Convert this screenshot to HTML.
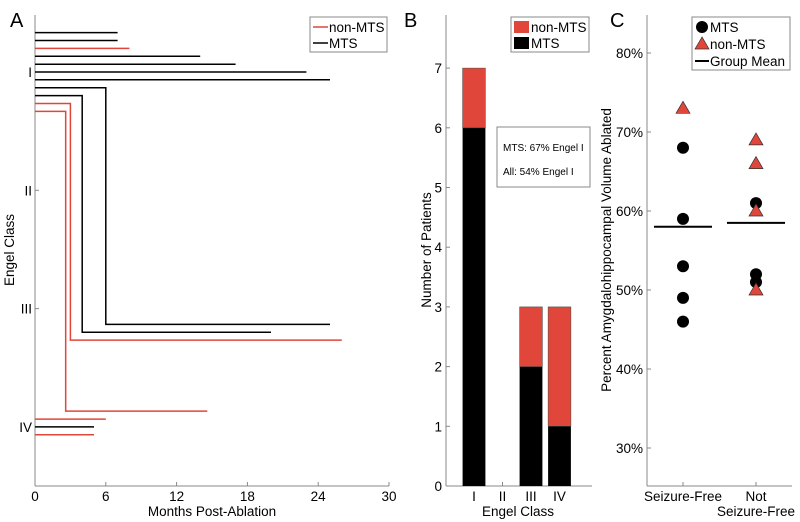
<!DOCTYPE html>
<html><head><meta charset="utf-8"><style>
body{margin:0;background:#fff;}
svg{display:block;font-family:"Liberation Sans",sans-serif;}
</style></head><body>
<svg id="fig" width="800" height="522" xmlns="http://www.w3.org/2000/svg"></svg>
<script>
// Panel A data
const aRows = [[1,-0.333,7,'k'],[1,-0.266,7,'k'],[1,-0.2,8,'r'],[1,-0.133,14,'k'],[1,-0.066,17,'k'],[1,0,23,'k'],[1,0.066,25,'k'],[4,-0.066,6,'r'],[4,0,5,'k'],[4,0.066,5,'r']];
const aSteps = [[1,0.133,6,3,0.133,25,'k'],[1,0.2,4,3,0.2,20,'k'],[1,0.266,3,3,0.266,26,'r'],[1,0.333,2.6,4,-0.133,14.6,'r']];
const aXTicks = [0,6,12,18,24,30];
const aYTicks = ['I','II','III','IV'];
// Panel B data
const bCats = ['I','II','III','IV'];
const bMTS = [6,0,2,1];
const bNon = [1,0,1,2];
const bYTicks = [0,1,2,3,4,5,6,7];
// Panel C data
const cCats = ['Seizure-Free','Not'];
const cMTS = [[68,59,53,49,46],[61,52,51]];
const cNon = [[73],[69,66,60,50]];
const cMean = [58,58.5];
const cYTicks = [30,40,50,60,70,80];

const RED='#e0463a', svg=document.getElementById('fig'), NS='http://www.w3.org/2000/svg';
const FS=13.5;
const col=c=>c==='r'?RED:'#000';
function el(tag,attrs,parent,text){const e=document.createElementNS(NS,tag);for(const k in attrs)e.setAttribute(k,attrs[k]);if(text!==undefined)e.textContent=text;(parent||svg).appendChild(e);return e;}
const AX='#888';

// ---- Panel A ----
const ax=v=>35+v*(354/30), ay=(c,o)=>72+(c-1+o)*118.3;
let gA=el('g',{});


let t=el('text',{x:10,y:27,'font-size':20},gA,'A');

el('line',{x1:35,y1:15,x2:35,y2:486,stroke:AX},gA);
el('line',{x1:35,y1:486,x2:389,y2:486,stroke:AX},gA);
aXTicks.forEach(v=>{el('line',{x1:ax(v),y1:486,x2:ax(v),y2:482,stroke:AX},gA);
 let tt=el('text',{x:ax(v),y:501,'text-anchor':'middle','font-size':FS},gA,v);
 });
aYTicks.forEach((c,i)=>{el('line',{x1:35,y1:ay(i+1,0),x2:39,y2:ay(i+1,0),stroke:AX},gA);
 let tt=el('text',{x:32,y:ay(i+1,0)+5,'text-anchor':'end','font-size':FS},gA,c);
 });
t=el('text',{x:212,y:516,'text-anchor':'middle','font-size':FS},gA,'Months Post-Ablation');

t=el('text',{x:0,y:0,'text-anchor':'middle','font-size':FS,transform:'translate(14,250) rotate(-90)'},gA,'Engel Class');

aRows.forEach(r=>{const y=ay(r[0],r[1]);let l=el('line',{x1:ax(0),y1:y,x2:ax(r[2]),y2:y,stroke:col(r[3]),'stroke-width':1.5},gA);
 });
aSteps.forEach(s=>{const y1=ay(s[0],s[1]),y2=ay(s[3],s[4]);let p=el('polyline',{points:`${ax(0)},${y1} ${ax(s[2])},${y1} ${ax(s[2])},${y2} ${ax(s[5])},${y2}`,fill:'none',stroke:col(s[6]),'stroke-width':1.5},gA);
 });
let lg=el('g',{},gA);
el('rect',{x:310,y:17,width:77,height:35,fill:'#fff',stroke:AX},lg);
el('line',{x1:313,y1:27,x2:328,y2:27,stroke:RED,'stroke-width':1.5},lg);
el('text',{x:329,y:32,'font-size':FS},lg,'non-MTS');
el('line',{x1:313,y1:43,x2:328,y2:43,stroke:'#000','stroke-width':1.5},lg);
el('text',{x:329,y:48,'font-size':FS},lg,'MTS');

// ---- Panel B ----
const bx=i=>445.5+(i+1)*28.5, by=v=>486-v*59.7;
let gB=el('g',{});
t=el('text',{x:404,y:27,'font-size':20},gB,'B');
el('line',{x1:446,y1:15,x2:446,y2:486,stroke:AX},gB);
el('line',{x1:446,y1:486,x2:592,y2:486,stroke:AX},gB);
bYTicks.forEach(v=>{el('line',{x1:446,y1:by(v),x2:450,y2:by(v),stroke:AX},gB);
 let tt=el('text',{x:442,y:by(v)+5,'text-anchor':'end','font-size':FS},gB,v);});
bCats.forEach((c,i)=>{el('line',{x1:bx(i),y1:486,x2:bx(i),y2:482,stroke:AX},gB);
 let tt=el('text',{x:bx(i),y:501,'text-anchor':'middle','font-size':FS},gB,c);
 if(bMTS[i]>0){let r=el('rect',{x:bx(i)-11.4,y:by(bMTS[i]),width:22.8,height:by(0)-by(bMTS[i]),fill:'#000'},gB);}
 if(bNon[i]>0){let r=el('rect',{x:bx(i)-11.4,y:by(bMTS[i]+bNon[i]),width:22.8,height:by(bMTS[i])-by(bMTS[i]+bNon[i]),fill:RED,stroke:'#444','stroke-width':0.5},gB);}
});
t=el('text',{x:518,y:516,'text-anchor':'middle','font-size':FS},gB,'Engel Class');
t=el('text',{x:0,y:0,'text-anchor':'middle','font-size':FS,transform:'translate(431,250) rotate(-90)'},gB,'Number of Patients');
lg=el('g',{},gB);
el('rect',{x:511,y:17,width:78,height:35,fill:'#fff',stroke:AX},lg);
el('rect',{x:514,y:21,width:15,height:12,fill:RED},lg);el('text',{x:531,y:32,'font-size':FS},lg,'non-MTS');
el('rect',{x:514,y:37,width:15,height:12,fill:'#000'},lg);el('text',{x:531,y:48,'font-size':FS},lg,'MTS');
let tb=el('g',{},gB);
el('rect',{x:497,y:127,width:93,height:60,fill:'#fff',stroke:AX},tb);
el('text',{x:503,y:151,'font-size':10},tb,'MTS: 67% Engel I');
el('text',{x:503,y:175,'font-size':10},tb,'All: 54% Engel I');

// ---- Panel C ----
const cx=i=>683+i*73, cy=v=>290-(v-50)*7.9;
let gC=el('g',{});
t=el('text',{x:610,y:27,'font-size':20},gC,'C');
el('line',{x1:647,y1:15,x2:647,y2:486,stroke:AX},gC);
el('line',{x1:647,y1:486,x2:792,y2:486,stroke:AX},gC);
cYTicks.forEach(v=>{el('line',{x1:647,y1:cy(v),x2:651,y2:cy(v),stroke:AX},gC);
 let tt=el('text',{x:643,y:cy(v)+5,'text-anchor':'end','font-size':FS},gC,v+'%');});
cCats.forEach((c,i)=>{el('line',{x1:cx(i),y1:486,x2:cx(i),y2:482,stroke:AX},gC);
 let tt=el('text',{x:cx(i),y:501,'text-anchor':'middle','font-size':FS},gC,c);
 let m=el('line',{x1:cx(i)-29,y1:cy(cMean[i]),x2:cx(i)+29,y2:cy(cMean[i]),stroke:'#000','stroke-width':2},gC);
 cMTS[i].forEach(v=>{let p=el('circle',{cx:cx(i),cy:cy(v),r:6,fill:'#000'},gC);});
 cNon[i].forEach(v=>{const x=cx(i),y=cy(v);let p=el('polygon',{points:`${x},${y-7} ${x-7},${y+5} ${x+7},${y+5}`,fill:RED,stroke:'#333','stroke-width':0.7},gC);});
});
t=el('text',{x:cx(1),y:516,'text-anchor':'middle','font-size':FS},gC,'Seizure-Free');
t=el('text',{x:0,y:0,'text-anchor':'middle','font-size':FS,transform:'translate(611,250) rotate(-90)'},gC,'Percent Amygdalohippocampal Volume Ablated');
lg=el('g',{},gC);
el('rect',{x:692,y:17,width:98,height:53,fill:'#fff',stroke:AX},lg);
el('circle',{cx:702,cy:27,r:6,fill:'#000'},lg);el('text',{x:710,y:32,'font-size':FS},lg,'MTS');
el('polygon',{points:'702,37 695,49 709,49',fill:RED,stroke:'#333','stroke-width':0.7},lg);el('text',{x:710,y:49,'font-size':FS},lg,'non-MTS');
el('line',{x1:695,y1:61,x2:709,y2:61,stroke:'#000','stroke-width':2},lg);el('text',{x:710,y:66,'font-size':FS},lg,'Group Mean');
</script>
</body></html>
